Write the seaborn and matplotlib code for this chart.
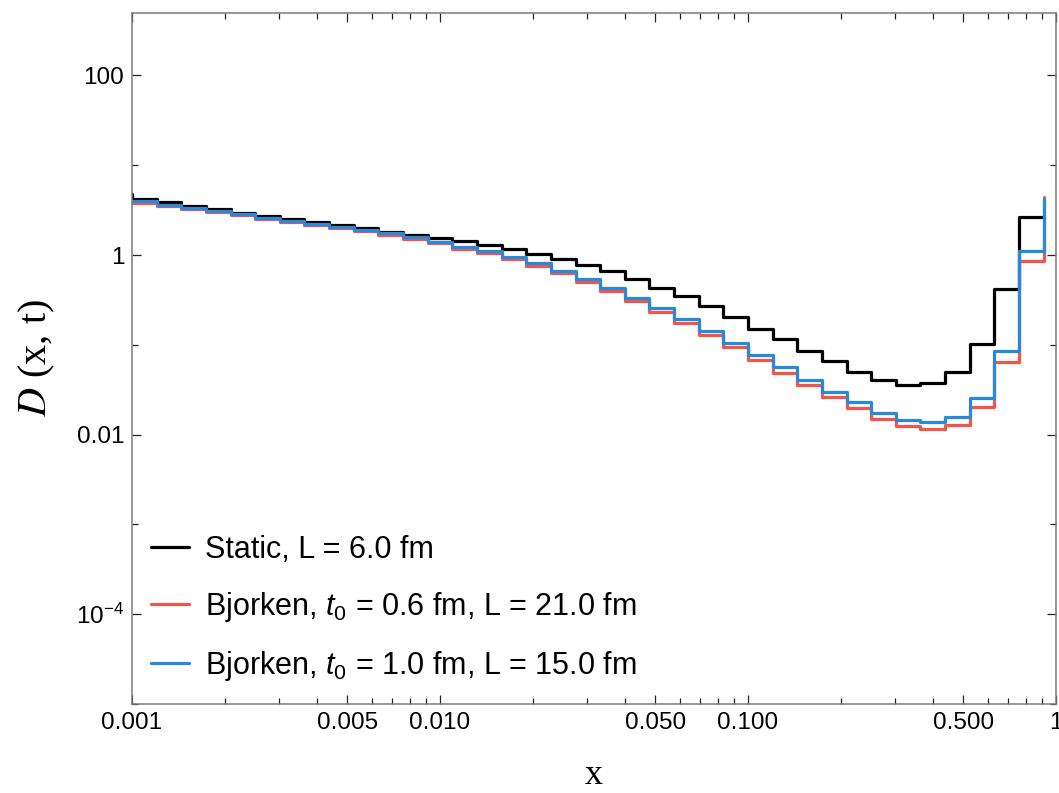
import numpy as np
import pandas as pd
import matplotlib
matplotlib.use("Agg")
import matplotlib.pyplot as plt
import seaborn as sns
from matplotlib.ticker import FixedLocator, FixedFormatter, NullFormatter

# ---------------- data ----------------
bin_edges = np.logspace(-3, -0.04, 38)   # 37 log-spaced bins

static_vals = [4.22, 3.87, 3.55, 3.24, 2.97, 2.75, 2.53, 2.32, 2.17, 1.99,
               1.82, 1.68, 1.55, 1.43, 1.29, 1.17, 1.04, 0.907, 0.784, 0.662,
               0.548, 0.435, 0.346, 0.268, 0.204, 0.152, 0.116, 0.0861, 0.0655, 0.0503,
               0.0410, 0.0360, 0.0377, 0.0499, 0.103, 0.421, 2.64]
static_start = 4.79

bj06_vals = [3.83, 3.52, 3.24, 3.00, 2.78, 2.55, 2.36, 2.18, 2.01, 1.84,
             1.68, 1.50, 1.36, 1.18, 1.05, 0.900, 0.764, 0.634, 0.504, 0.400,
             0.310, 0.235, 0.175, 0.1287, 0.0946, 0.0672, 0.0486, 0.0354, 0.0261, 0.0199,
             0.0150, 0.0124, 0.0115, 0.0127, 0.0204, 0.0638, 0.869]
bj06_end = 4.47

bj10_vals = [4.01, 3.64, 3.32, 3.08, 2.85, 2.61, 2.42, 2.24, 2.07, 1.91,
             1.75, 1.57, 1.41, 1.24, 1.105, 0.962, 0.813, 0.662, 0.540, 0.429,
             0.334, 0.257, 0.194, 0.1437, 0.105, 0.0763, 0.0561, 0.0410, 0.0301, 0.0232,
             0.0175, 0.0147, 0.0139, 0.0156, 0.0256, 0.0861, 1.12]
bj10_end = 4.18

series_labels = ["Static, L = 6.0 fm",
                 r"Bjorken, $t_0$ = 0.6 fm, L = 21.0 fm",
                 r"Bjorken, $t_0$ = 1.0 fm, L = 15.0 fm"]
series_colors = ["#000000", "#F0564A", "#2A88DA"]

x_major = [0.001, 0.005, 0.01, 0.05, 0.1, 0.5, 1]
x_major_labels = ["0.001", "0.005", "0.010", "0.050", "0.100", "0.500", "1"]
y_major = [1e-4, 1e-2, 1, 100]
y_major_labels = [r"$10^{-4}$", "0.01", "1", "100"]
y_minor = [1e-5, 1e-3, 1e-1, 10]

# ---------------- style ----------------
sns.set_theme(style="ticks")
plt.rcParams["font.family"] = ["Liberation Sans", "DejaVu Sans"]
plt.rcParams["mathtext.fontset"] = "custom"
plt.rcParams["mathtext.rm"] = "Liberation Sans"
plt.rcParams["mathtext.it"] = "Liberation Sans:italic"
plt.rcParams["text.color"] = "black"
plt.rcParams["axes.labelcolor"] = "black"
plt.rcParams["xtick.color"] = "black"
plt.rcParams["ytick.color"] = "black"

fig = plt.figure(figsize=(10.59, 7.93), dpi=100)
ax = fig.add_axes([0.12465, 0.11223, 0.87252, 0.87175])
ax.set_xscale("log")
ax.set_yscale("log")

edges = list(bin_edges)
df_static = pd.DataFrame({"x": [edges[0]] + edges,
                          "y": [static_start] + static_vals + [static_vals[-1]]})
df_b06 = pd.DataFrame({"x": edges, "y": bj06_vals + [bj06_end]})
df_b10 = pd.DataFrame({"x": edges, "y": bj10_vals + [bj10_end]})

for df, lab, col in zip([df_static, df_b06, df_b10], series_labels, series_colors):
    sns.lineplot(data=df, x="x", y="y", ax=ax, color=col, lw=2.3,
                 drawstyle="steps-post", estimator=None, sort=False, label=lab)

ax.set_xlim(0.001, 1)
ax.set_ylim(1e-5, 500)

ax.xaxis.set_major_locator(FixedLocator(x_major))
ax.xaxis.set_major_formatter(FixedFormatter(x_major_labels))
x_minor = [m * 10.0 ** k for k in (-3, -2, -1) for m in (2, 3, 4, 6, 7, 8, 9)]
ax.xaxis.set_minor_locator(FixedLocator(x_minor))
ax.xaxis.set_minor_formatter(NullFormatter())

ax.yaxis.set_major_locator(FixedLocator(y_major))
ax.yaxis.set_major_formatter(FixedFormatter(y_major_labels))
ax.yaxis.set_minor_locator(FixedLocator(y_minor))
ax.yaxis.set_minor_formatter(NullFormatter())

ax.tick_params(which="both", direction="in", top=True, right=True,
               color="#222222", width=0.9, labelcolor="black")
ax.tick_params(which="major", length=6.5, labelsize=17.5, pad=6)
ax.tick_params(which="minor", length=4.2)
ax.tick_params(axis="y", which="major", pad=5.5)
for sp in ax.spines.values():
    sp.set_color("#7a7a7a")
    sp.set_linewidth(1.1)

ax.set_xlabel("x", fontfamily="Liberation Serif", fontsize=26, labelpad=18,
              color="black")
ax.set_ylabel(r"$D$ (x, t)", fontfamily="Liberation Serif", fontsize=29,
              math_fontfamily="stix", labelpad=14, color="black")

leg = ax.legend(loc="upper left", bbox_to_anchor=(0.0206, 0.245), frameon=False,
                fontsize=22, handlelength=1.25, handletextpad=0.52,
                labelspacing=0.82, borderpad=0, borderaxespad=0)
for t in leg.get_texts():
    t.set_color("black")

fig.savefig("out.png", dpi=100)
